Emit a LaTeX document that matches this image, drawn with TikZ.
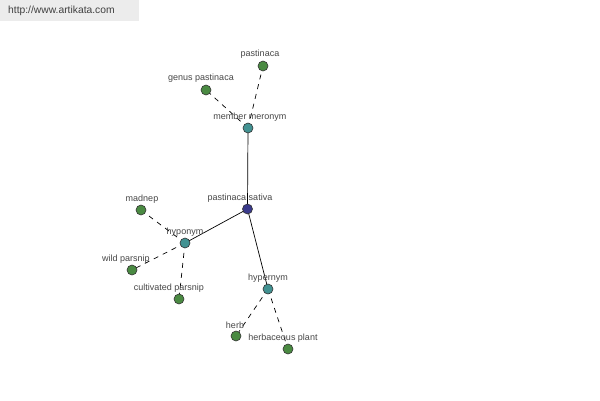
\documentclass[tikz,border=0pt]{standalone}
\usepackage{fontspec}
\setmainfont{Liberation Sans}
\begin{document}
\begin{tikzpicture}[x=1pt,y=-1pt,
  dot/.style={circle,draw=black!80,line width=0.6pt,minimum size=10pt,inner sep=0pt},
  leaf/.style={dot,fill=leafgreen},
  rel/.style={dot,fill=relteal},
  hub/.style={dot,fill=hubblue},
  lbl/.style={font=\fontsize{9}{10}\selectfont,text=black!72,inner sep=0pt},
  solidlink/.style={draw=black,line width=0.7pt},
  dashlink/.style={draw=black,line width=0.7pt,dash pattern=on 5pt off 5pt}]
\definecolor{leafgreen}{RGB}{74,138,66}
\definecolor{relteal}{RGB}{66,146,146}
\definecolor{hubblue}{RGB}{58,58,140}
\definecolor{bannergray}{RGB}{236,236,236}
\useasboundingbox[fill=white] (0,0) rectangle (600,400);
\fill[bannergray] (0,0) rectangle (139,21);
\node[anchor=west,font=\fontsize{10.3}{12}\selectfont,text=black!75,inner sep=0pt] (site) at (8,11) {http://www.artikata.com};
% node positions
\coordinate (pA) at (263,66);
\coordinate (pB) at (206,90);
\coordinate (pC) at (248,128);
\coordinate (pD) at (247.5,209);
\coordinate (pE) at (141,210);
\coordinate (pF) at (185,243);
\coordinate (pG) at (132,270);
\coordinate (pH) at (179,299);
\coordinate (pI) at (268,289);
\coordinate (pJ) at (236,336);
\coordinate (pK) at (288,349);
% connectors
\draw[solidlink] (pD) -- (pC);
\draw[solidlink] (pD) -- (pF);
\draw[solidlink] (pD) -- (pI);
\draw[dashlink] (pC) -- (pA);
\draw[dashlink] (pC) -- (pB);
\draw[dashlink] (pF) -- (pE);
\draw[dashlink] (pF) -- (pG);
\draw[dashlink] (pF) -- (pH);
\draw[dashlink] (pI) -- (pJ);
\draw[dashlink] (pI) -- (pK);
% dots
\node[leaf] (pastinaca) at (pA) {};
\node[leaf] (genus) at (pB) {};
\node[rel] (meronym) at (pC) {};
\node[hub] (sativa) at (pD) {};
\node[leaf] (madnep) at (pE) {};
\node[rel] (hyponym) at (pF) {};
\node[leaf] (wild) at (pG) {};
\node[leaf] (cultivated) at (pH) {};
\node[rel] (hypernym) at (pI) {};
\node[leaf] (herb) at (pJ) {};
\node[leaf] (herbaceous) at (pK) {};
% labels
\node[lbl] (tA) at (260,54) {pastinaca};
\node[lbl] (tB) at (201,78) {genus pastinaca};
\node[lbl] (tC) at (250,117) {member meronym};
\node[lbl] (tD) at (240,198) {pastinaca sativa};
\node[lbl] (tE) at (142,199) {madnep};
\node[lbl] (tF) at (185,232) {hyponym};
\node[lbl] (tG) at (126,259) {wild parsnip};
\node[lbl] (tH) at (169,288) {cultivated parsnip};
\node[lbl] (tI) at (268,278) {hypernym};
\node[lbl] (tJ) at (235,325) {herb};
\node[lbl] (tK) at (283,338) {herbaceous plant};
\end{tikzpicture}
\end{document}
